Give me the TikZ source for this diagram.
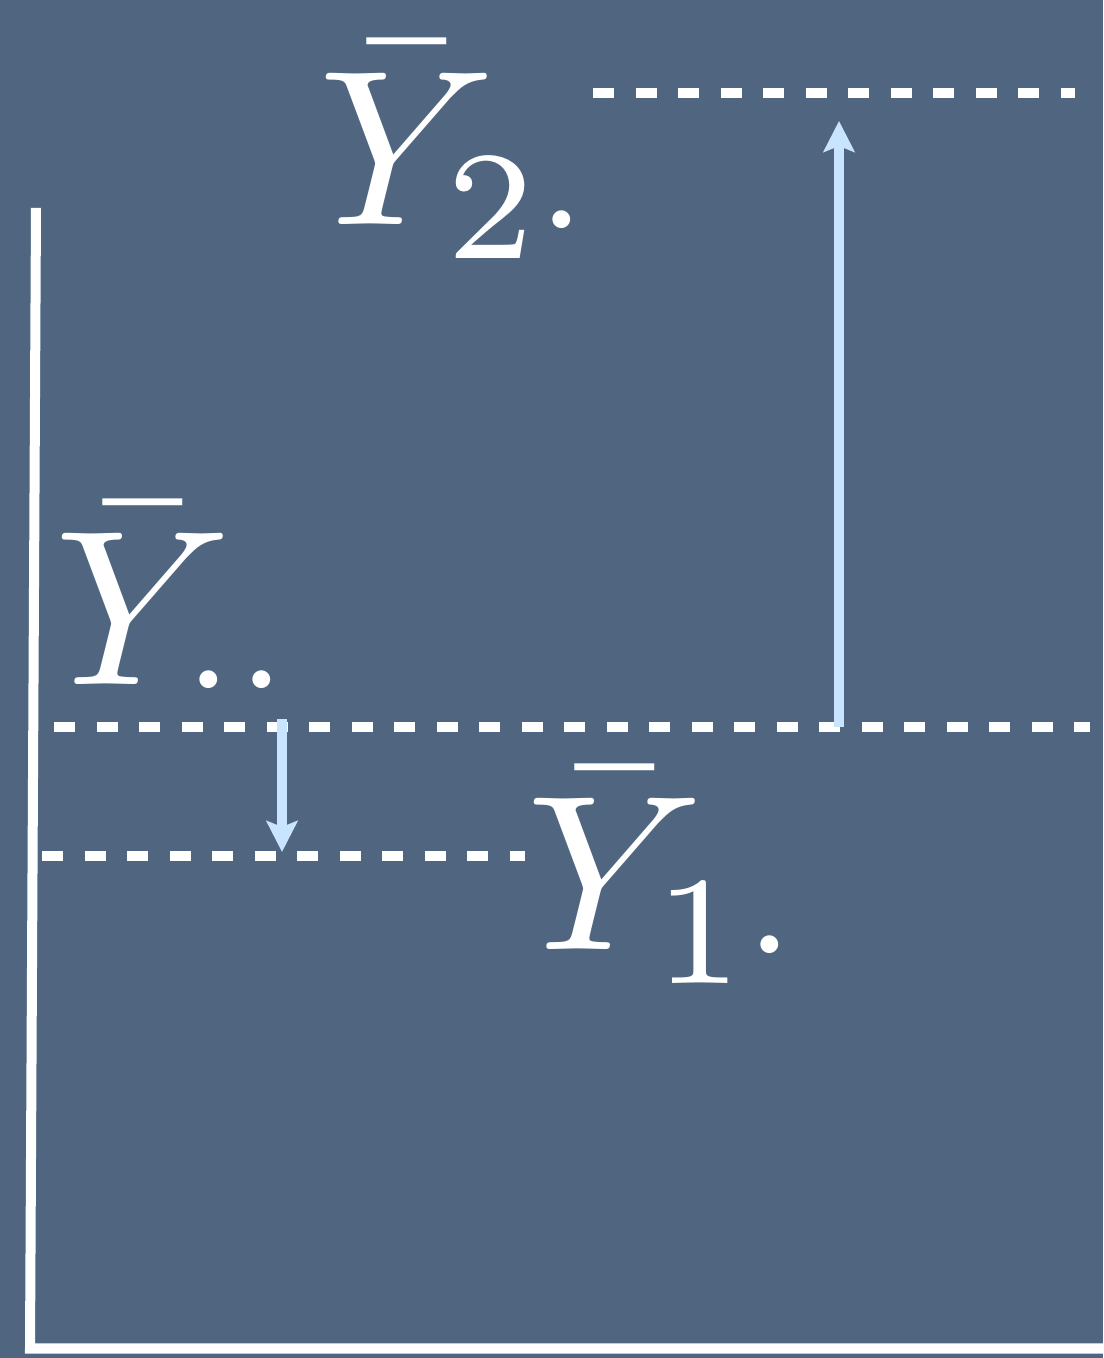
\documentclass[tikz,border=0pt]{standalone}
\usetikzlibrary{arrows.meta}

\definecolor{slate}{RGB}{80,102,128}
\definecolor{paleblue}{RGB}{200,228,255}

\tikzset{
	meanline/.style={white,line width=0.1cm,dash pattern=on 0.21cm off 0.215cm},
	shift arrow/.style={paleblue,line width=0.1cm,-{Stealth[length=0.31cm,width=0.31cm,inset=0.06cm]}},
	meanlabel/.style={white,anchor=base west,inner sep=0pt,scale=6.3,transform shape}
}

\begin{document}
\begin{tikzpicture}

	% background
	\fill[slate] (0,0) rectangle (11.03,13.58);
	\useasboundingbox (0,0) rectangle (11.03,13.58);

	% axes
	\draw[white,line width=0.1cm] (0.36,11.50) -- (0.30,0.095) -- (11.03,0.095);

	% mean levels
	\coordinate (toptwo) at (5.93,12.65);
	\coordinate (endtwo) at (10.75,12.65);
	\coordinate (startall) at (0.54,6.31);
	\coordinate (endall) at (10.90,6.31);
	\coordinate (startone) at (0.42,5.02);
	\coordinate (endone) at (5.25,5.02);

	\draw[meanline] (toptwo) -- (endtwo);
	\draw[meanline] (startall) -- (endall);
	\draw[meanline] (startone) -- (endone);

	% labels
	\node[meanlabel] (ybartwo) at (3.14,11.33) {$\bar{Y}_{2\cdot}$};
	\node[meanlabel] (ybarall) at (0.50,6.73) {$\bar{Y}_{\cdot\cdot}$};
	\node[meanlabel] (ybarone) at (5.22,4.08) {$\bar{Y}_{1\cdot}$};

	% effects
	\coordinate (upfoot) at (8.39,6.31);
	\coordinate (uptip) at (8.39,12.37);
	\coordinate (downfoot) at (2.82,6.39);
	\coordinate (downtip) at (2.82,5.06);

	\draw[shift arrow] (upfoot) -- (uptip);
	\draw[shift arrow] (downfoot) -- (downtip);

\end{tikzpicture}
\end{document}
